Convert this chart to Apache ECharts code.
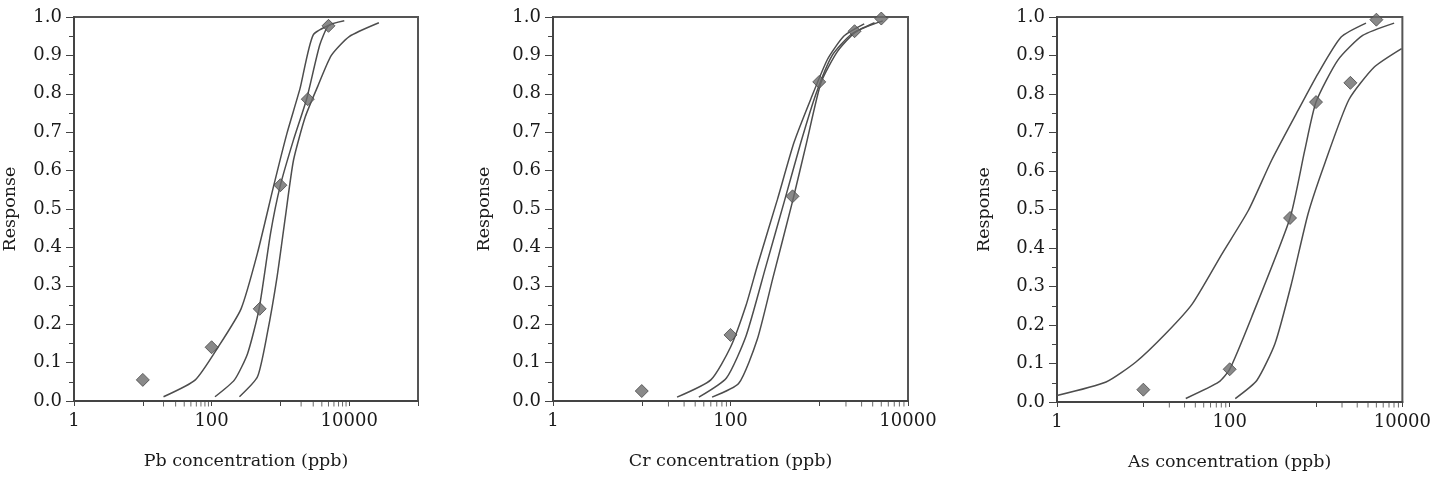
<!DOCTYPE html>
<html>
<head>
<meta charset="utf-8">
<script src="https://cdn.jsdelivr.net/npm/echarts@6.0.0/dist/echarts.min.js"></script>
<style>
  html, body { margin: 0; padding: 0; background: #fff; }
  #chart { width: 1434px; height: 478px; }
</style>
</head>
<body>
<div id="chart"></div>
<script>
// measured points (same concentrations for all three metals)
const concentration = [10, 100, 500, 1000, 2500, 5000];
const pbResponse = [0.055, 0.14, 0.24, 0.562, 0.786, 0.977];
const crResponse = [0.026, 0.172, 0.533, 0.831, 0.963, 0.996];
const asResponse = [0.032, 0.085, 0.478, 0.779, 0.829, 0.993];

// fitted curve + bounds, [concentration, response]
const pbLeft = [[20,0.011],[58,0.055],[124,0.14],[268,0.24],[464,0.385],[803,0.562],[1245,0.697],[1930,0.814],[2990,0.953],[5780,0.983]];
const pbMid = [[112,0.011],[215,0.055],[334,0.124],[490,0.24],[720,0.437],[1000,0.562],[1550,0.68],[2400,0.786],[3730,0.927],[5000,0.977],[8480,0.99]];
const pbRight = [[254,0.011],[464,0.063],[645,0.176],[896,0.324],[1180,0.479],[1550,0.627],[2300,0.74],[3500,0.82],[5500,0.9],[10000,0.949],[27000,0.985]];

const crLeft = [[25,0.01],[60,0.055],[100,0.14],[150,0.25],[200,0.351],[338,0.525],[519,0.673],[802,0.786],[1240,0.89],[1910,0.951],[3210,0.982]];
const crMid = [[44,0.01],[90,0.06],[150,0.17],[250,0.35],[410,0.525],[620,0.673],[920,0.80],[1400,0.90],[2300,0.955],[4200,0.985]];
const crRight = [[62,0.01],[124,0.046],[200,0.16],[300,0.32],[500,0.52],[720,0.673],[1050,0.83],[1600,0.91],[2600,0.962],[5200,0.99]];

const asLeft = [[1,0.017],[3.7,0.052],[8.2,0.104],[18.2,0.178],[36.9,0.255],[81.5,0.385],[165,0.498],[306,0.628],[621,0.758],[1054,0.853],[1953,0.948],[3790,0.984]];
const asMid = [[31,0.009],[75,0.052],[100,0.085],[180,0.221],[500,0.478],[741,0.654],[1000,0.779],[1790,0.888],[3470,0.952],[8030,0.984]];
const asRight = [[116,0.009],[206,0.056],[335,0.152],[520,0.308],[809,0.489],[1259,0.619],[2400,0.785],[4730,0.87],[9800,0.918]];

// small x ticks the original only shows in two decades
const minorTickVals = [20, 30, 40, 50, 60, 70, 80, 90, 2000, 3000, 4000, 5000, 6000, 7000, 8000, 9000];

const xNames = ['Pb concentration (ppb)', 'Cr concentration (ppb)', 'As concentration (ppb)'];
const xMax = [100000, 10000, 10000];
const responses = [pbResponse, crResponse, asResponse];
const curves = [[pbLeft, pbMid, pbRight], [crLeft, crMid, crRight], [asLeft, asMid, asRight]];

const FONT = 'DejaVu Serif';
const grids = [
  { left: 70, top: 17, width: 348, height: 384 },
  { left: 553, top: 17, width: 355, height: 384 },
  { left: 1057, top: 17, width: 347, height: 385 }
];
const yNameGap = [55, 60, 64];

let chart = echarts.init(document.getElementById('chart'));

let xAxis = [], yAxis = [], series = [];
grids.forEach(function (g, i) {
  xAxis.push({
    type: 'log', logBase: 10, gridIndex: i, min: 1, max: xMax[i], interval: 1,
    name: xNames[i], nameLocation: 'middle', nameGap: 51,
    nameTextStyle: { fontFamily: FONT, fontSize: 17.5, color: '#1a1a1a' },
    axisLine: { lineStyle: { color: '#444', width: 2 } },
    axisTick: { show: true, length: 5, lineStyle: { color: '#444', width: 1 } },
    axisLabel: {
      fontFamily: FONT, fontSize: 18, color: '#1a1a1a', margin: 11,
      formatter: function (v) {
        const e = Math.round(Math.log10(v));
        return e % 2 === 0 ? String(Math.round(v)) : '';
      }
    },
    splitLine: { show: false }
  });
  yAxis.push({
    type: 'value', gridIndex: i, min: 0, max: 1, interval: 0.1,
    name: 'Response', nameLocation: 'middle', nameGap: yNameGap[i],
    nameTextStyle: { fontFamily: FONT, fontSize: 17.5, color: '#1a1a1a' },
    axisLine: { show: true, lineStyle: { color: '#444', width: 2 } },
    axisTick: { show: true, length: 8, lineStyle: { color: '#444', width: 1 } },
    minorTick: { show: true, splitNumber: 2, length: 5, lineStyle: { color: '#444', width: 1 } },
    axisLabel: {
      fontFamily: FONT, fontSize: 18, color: '#1a1a1a', margin: 12,
      formatter: function (v) { return v.toFixed(1); }
    },
    splitLine: { show: false }
  });

  curves[i].forEach(function (c) {
    series.push({
      type: 'line', xAxisIndex: i, yAxisIndex: i, data: c,
      showSymbol: false, smooth: 0.2, silent: true,
      lineStyle: { color: '#4d4d4d', width: 1.5 }
    });
  });

  series.push({
    type: 'scatter', xAxisIndex: i, yAxisIndex: i, clip: false, silent: true,
    symbol: 'rect', symbolSize: [1, 5], symbolOffset: [0, 3],
    itemStyle: { color: '#444' },
    data: minorTickVals.filter(v => v <= xMax[i]).map(v => [v, 0])
  });

  series.push({
    type: 'scatter', xAxisIndex: i, yAxisIndex: i, clip: false,
    symbol: 'diamond', symbolSize: 13, z: 5,
    itemStyle: { color: '#6c6c6c', borderColor: '#474747', borderWidth: 1 },
    data: concentration.map((c, k) => [c, responses[i][k]])
  });
});

let option = {
  animation: false,
  backgroundColor: '#fff',
  grid: grids.map(g => Object.assign({ show: true, borderColor: '#555', borderWidth: 2, backgroundColor: 'transparent' }, g)),
  xAxis: xAxis,
  yAxis: yAxis,
  series: series
};
chart.setOption(option);
</script>
</body>
</html>
